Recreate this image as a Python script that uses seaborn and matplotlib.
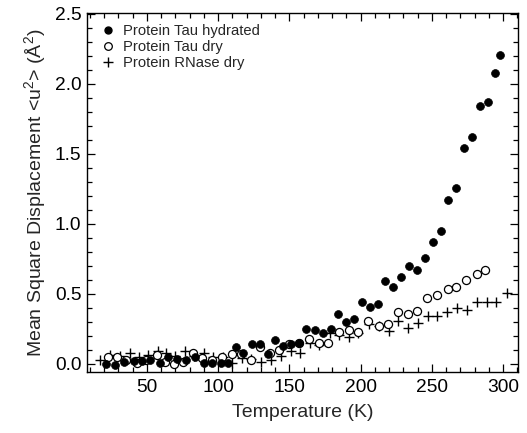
import numpy as np
import pandas as pd
import matplotlib
matplotlib.use("Agg")
import matplotlib.pyplot as plt
from matplotlib.ticker import MultipleLocator
from matplotlib.lines import Line2D
import seaborn as sns

# --- data ---
tau_hyd_T = [21, 27.5, 34, 41, 46.5, 52.5, 59, 65, 71, 77.5, 83.5, 90, 96, 101.7, 107,
             112.3, 117.7, 123.5, 129.4, 134.8, 140, 145.5, 151, 156.7, 162, 167.8, 173.4,
             179, 184.2, 189.8, 195.4, 200.8, 206.4, 212, 217.4, 223, 228.4, 234.2, 239.6,
             245.2, 250.8, 256.2, 261.4, 267, 272.6, 278.2, 283.6, 289.3, 294.4, 298]
tau_hyd_u2 = [0.0, -0.005, 0.015, 0.02, 0.02, 0.03, 0.005, 0.05, 0.035, 0.025, 0.05, 0.01,
              0.01, 0.01, 0.005, 0.12, 0.075, 0.14, 0.14, 0.07, 0.17, 0.13, 0.14, 0.15,
              0.25, 0.24, 0.22, 0.25, 0.36, 0.30, 0.32, 0.44, 0.41, 0.43, 0.59, 0.55, 0.62,
              0.70, 0.67, 0.76, 0.87, 0.95, 1.17, 1.26, 1.545, 1.62, 1.84, 1.87, 2.08, 2.21]

tau_dry_T = [22.4, 29.1, 35.3, 42.8, 49.3, 56.8, 62.6, 69, 75.5, 82, 89, 96, 102.5, 109.5,
             116.2, 122.8, 129.5, 136.2, 142.9, 149.9, 157, 163.8, 170.5, 177.4, 184.5,
             191.5, 198.3, 205.5, 212.7, 219, 226.3, 233.1, 239.9, 246.9, 253.7, 261.2,
             267, 274.2, 281.9, 287.5]
tau_dry_u2 = [0.05, 0.05, 0.03, 0.005, 0.03, 0.065, 0.015, 0.0, 0.015, 0.075, 0.04, 0.03,
              0.05, 0.07, 0.07, 0.025, 0.12, 0.08, 0.10, 0.14, 0.15, 0.18, 0.15, 0.15,
              0.225, 0.245, 0.225, 0.31, 0.27, 0.285, 0.37, 0.36, 0.38, 0.47, 0.49, 0.535,
              0.55, 0.60, 0.645, 0.67]

rnase_T = [17, 24, 31, 38, 44.6, 51, 58, 63.3, 70, 76.7, 83, 90, 96.6, 103.2, 109.7, 116.5,
           123, 130, 137.3, 144, 150.8, 157.6, 164.2, 171, 178.5, 184.8, 191.8, 198.5,
           205.6, 212.7, 219.7, 226.5, 233.5, 240.3, 247.1, 253.9, 260.9, 267.7, 274.7,
           282, 288.5, 295, 302.8]
rnase_u2 = [0.03, 0.065, 0.057, 0.075, 0.05, 0.065, 0.09, 0.075, 0.06, 0.09, 0.06, 0.08,
            0.05, 0.05, 0.005, 0.04, 0.035, 0.015, 0.03, 0.06, 0.09, 0.08, 0.15, 0.135,
            0.22, 0.21, 0.195, 0.22, 0.285, 0.27, 0.235, 0.31, 0.26, 0.29, 0.34, 0.34,
            0.37, 0.40, 0.385, 0.44, 0.44, 0.44, 0.51]

labels = ["Protein Tau hydrated", "Protein Tau dry", "Protein RNase dry"]
x_ticks = [50, 100, 150, 200, 250, 300]
y_ticks = [0.0, 0.5, 1.0, 1.5, 2.0, 2.5]

sns.set_style("ticks")
plt.rcParams["font.family"] = ["Liberation Sans", "DejaVu Sans"]
plt.rcParams["mathtext.default"] = "regular"

fig, ax = plt.subplots(figsize=(5.27, 4.33), dpi=100)
fig.subplots_adjust(left=0.165, right=0.983, top=0.970, bottom=0.141)

df_h = pd.DataFrame({"T": tau_hyd_T, "u2": tau_hyd_u2})
df_d = pd.DataFrame({"T": tau_dry_T, "u2": tau_dry_u2})
df_r = pd.DataFrame({"T": rnase_T, "u2": rnase_u2})

sns.scatterplot(data=df_r, x="T", y="u2", ax=ax, marker="+", color="black",
                s=55, linewidth=1.0, zorder=2)
sns.scatterplot(data=df_d, x="T", y="u2", ax=ax, marker="o", facecolor="white",
                edgecolor="black", s=34, linewidth=0.9, zorder=3)
sns.scatterplot(data=df_h, x="T", y="u2", ax=ax, marker="o", color="black",
                edgecolor="black", s=32, linewidth=0.5, zorder=4)

ax.set_xlim(7.9, 310.5)
ax.set_ylim(-0.057, 2.507)
ax.set_xticks(x_ticks)
ax.set_yticks(y_ticks)
ax.set_yticklabels([f"{v:.1f}" for v in y_ticks])
ax.xaxis.set_minor_locator(MultipleLocator(10))
ax.yaxis.set_minor_locator(MultipleLocator(0.1))
ax.tick_params(which="both", direction="in", top=True, right=True, width=0.9,
               colors="black", labelsize=13.8)
ax.tick_params(which="major", length=6)
ax.tick_params(which="minor", length=3.5)
ax.tick_params(axis="x", pad=5)
ax.tick_params(axis="y", pad=4)
for sp in ax.spines.values():
    sp.set_linewidth(1.0)
    sp.set_color("black")
    sp.set_visible(True)

ax.set_xlabel("Temperature (K)", fontsize=14, labelpad=6)
ax.set_ylabel("Mean Square Displacement <u$^2$> (Å$^2$)", fontsize=14, labelpad=5)

handles = [
    Line2D([], [], linestyle="none", marker="o", markersize=5, color="black"),
    Line2D([], [], linestyle="none", marker="o", markersize=5.5, markerfacecolor="white",
           markeredgecolor="black", markeredgewidth=0.9),
    Line2D([], [], linestyle="none", marker="+", markersize=7, color="black",
           markeredgewidth=1.0),
]
ax.legend(handles, labels, loc="upper left", frameon=False, fontsize=10.6,
          handlelength=1.0, handletextpad=0.53, labelspacing=0.15,
          borderaxespad=0.0, borderpad=0.0,
          bbox_to_anchor=(0.032, 0.970))

fig.savefig("out.png", dpi=100)
